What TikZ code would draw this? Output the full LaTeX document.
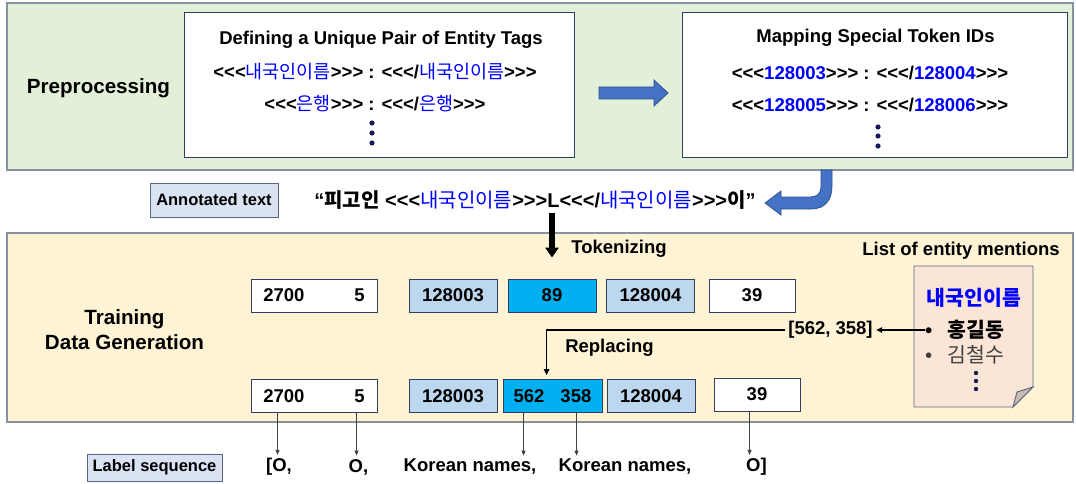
\documentclass[tikz,border=0pt]{standalone}
\usepackage{fontspec}
\newfontfamily\arl{Liberation Sans}
\newfontfamily\kr{Noto Sans CJK KR}
\usetikzlibrary{positioning,arrows.meta}

\definecolor{prepgreen}{RGB}{226,240,217}
\definecolor{gentan}{RGB}{255,243,214}
\definecolor{panelline}{RGB}{135,145,160}
\definecolor{boxline}{RGB}{50,62,95}
\definecolor{tokblue}{RGB}{189,215,238}
\definecolor{tokcyan}{RGB}{0,176,240}
\definecolor{tagblue}{RGB}{0,0,255}
\definecolor{capblue}{RGB}{218,227,243}
\definecolor{arrblue}{RGB}{68,114,196}
\definecolor{arrline}{RGB}{47,82,143}
\definecolor{docpeach}{RGB}{251,229,214}
\definecolor{docfold}{RGB}{200,186,176}
\definecolor{dotnavy}{RGB}{25,25,90}
\definecolor{softblack}{RGB}{64,64,64}

\newcommand\fsmain{\arl\fontsize{18.5pt}{22pt}\selectfont\bfseries}
\newcommand\fshead{\arl\fontsize{20.6pt}{25pt}\selectfont\bfseries}
\newcommand\fsann{\arl\fontsize{20pt}{24pt}\selectfont\bfseries}
\newcommand\fsdoc{\arl\fontsize{20.5pt}{24pt}\selectfont\bfseries}
\newcommand\fscap{\arl\fontsize{16.5pt}{20pt}\selectfont\bfseries}
\newcommand\tagko[1]{\textcolor{tagblue}{\kr\mdseries #1}}
\newcommand\tagid[1]{\textcolor{tagblue}{#1}}

\tikzset{
  every node/.style={font=\fsmain},
  panel/.style={draw=panelline, line width=1.2pt},
  tagbox/.style={draw=boxline, fill=white, line width=0.9pt},
  capbox/.style={draw=boxline!80, fill=capblue, line width=0.9pt, font=\fscap},
  tok/.style={draw=boxline, line width=0.9pt, minimum width=88pt, minimum height=33pt, inner sep=0pt},
  tokwhite/.style={tok, fill=white},
  toklight/.style={tok, fill=tokblue},
  tokcyan/.style={tok, fill=tokcyan},
  blockarrow/.style={draw=arrline, fill=arrblue, line width=0.8pt},
  tokarrow/.style={line width=5.5pt, -{Triangle[length=10pt,width=13pt]}},
  ptr/.style={line width=1.5pt, -{Triangle[length=6pt,width=5.5pt]}},
  lblarrow/.style={draw=softblack, line width=0.8pt, -{Triangle[length=5pt,width=4pt]}},
  docline/.style={draw=boxline!80, line width=0.9pt}
}

\begin{document}
\begin{tikzpicture}[x=1pt,y=-1pt]
\useasboundingbox (0,0) rectangle (1076,484);

% Preprocessing panel
\draw[panel, fill=prepgreen] (7,3) rectangle (1073,170);
\node[font=\fshead] (prep) at (98.5,88) {Preprocessing};

% Unique pair of entity tags
\node[tagbox, minimum width=390pt, minimum height=145pt] (pairs) at (379,84.5) {};
\node (pairsT) at (381,40) {Defining a Unique Pair of Entity Tags};
\node (pairsA) at (375,72) {<<<\tagko{내국인이름}>>> : <<</\tagko{내국인이름}>>>};
\node (pairsB) at (375,104) {<<<\tagko{은행}>>> : <<</\tagko{은행}>>>};
\fill[dotnavy] (372,123) circle (2.6pt) (372,133) circle (2.6pt) (372,143) circle (2.6pt);

% Block arrow between the two boxes
\draw[blockarrow] (599,87) -- (654,87) -- (654,80) -- (668,93) -- (654,106) -- (654,99) -- (599,99) -- cycle;

% Special token ids
\node[tagbox, minimum width=385pt, minimum height=145pt] (ids) at (874.5,84.5) {};
\node (idsT) at (875.5,38) {Mapping Special Token IDs};
\node (idsA) at (870,73) {<<<\tagid{128003}>>> : <<</\tagid{128004}>>>};
\node (idsB) at (870,105) {<<<\tagid{128005}>>> : <<</\tagid{128006}>>>};
\fill[dotnavy] (878,127) circle (2.6pt) (878,136) circle (2.6pt) (878,146) circle (2.6pt);

% Annotated text
\node[capbox, minimum width=128pt, minimum height=34pt] (annLbl) at (214,200) {Annotated text};
\node[font=\fsann] (ann) at (535,200) {“{\kr 피고인} <<<\tagko{내국인이름}>>>L<<</\tagko{내국인이름}>>>{\kr 이}”};
\draw[blockarrow] (821,170) -- (821,186) .. controls (821,194) and (817,197) .. (810,197) -- (781,197)
  -- (781,191) -- (765,203) -- (781,215) -- (781,209) -- (811,209) .. controls (825,209) and (832,200) .. (832,186)
  -- (832,170) -- cycle;

% Training data generation panel
\draw[panel, fill=gentan] (7,233) rectangle (1073,422);
\node[font=\fshead, align=center] (gen) at (124.5,329.5) {Training\\Data Generation};

% Tokens before replacing
\node[tokwhite, minimum width=126pt] (t1) at (314,295.5) {2700\hspace{50pt}5};
\node[toklight] (t2) at (453,295.5) {128003};
\node[tokcyan] (t3) at (552,295.5) {89};
\node[toklight] (t4) at (650.5,295.5) {128004};
\node[tokwhite, minimum width=86pt] (t5) at (752,295.5) {39};

\draw[tokarrow] (ann.south -| t3.north) -- ([yshift=21pt]t3.north);
\node (tokLbl) at (619,249) {Tokenizing};
\node (listLbl) at (961,251) {List of entity mentions};

% Tokens after replacing
\node[tokwhite, minimum width=126pt] (b1) at (314,396) {2700\hspace{50pt}5};
\node[toklight] (b2) at (453,396) {128003};
\node[tokcyan, minimum width=99pt] (b3) at (552.5,396) {562\hspace{16pt}358};
\node[toklight] (b4) at (651,396) {128004};
\node[tokwhite, minimum width=86pt] (b5) at (757,394.5) {39};

% List of entity mentions (document)
\draw[docline, fill=docpeach] (914,266) -- (1033,266) -- (1033,387) -- (1013,407) -- (914,407) -- cycle;
\draw[docline, fill=docfold] (1033,387) -- (1017,392) -- (1013,407) -- cycle;
\node[font=\fsdoc, text=tagblue] (docHead) at (974,298) {\kr 내국인이름};
\node[font=\fsdoc, anchor=west, inner sep=0pt] (m1) at (925,330) {•\hspace{15pt}{\kr 홍길동}};
\node[font=\fsdoc, anchor=west, inner sep=0pt, text=softblack] (m2) at (925,355) {\mdseries •\hspace{15pt}{\kr 김철수}};
\fill[dotnavy] (976,373) circle (2.2pt) (976,381) circle (2.2pt) (976,389) circle (2.2pt);

% Replacing
\node (sel) at (830.5,330) {[562, 358]};
\draw[ptr] (m1.west) -- (m1.west -| sel.east);
\coordinate (repIn) at ([xshift=44pt,yshift=4pt]b3.north west);
\draw[ptr] (sel.west) -| (repIn);
\node (repLbl) at (609.5,348) {Replacing};

% Label sequence
\node[capbox, minimum width=135pt, minimum height=27pt] (seqLbl) at (154.5,467.5) {Label sequence};
\node (l1) at (279,467) {[O,};
\node (l2) at (358.5,467) {O,};
\node (l3) at (470,467) {Korean names,};
\node (l4) at (625,467) {Korean names,};
\node (l5) at (756.5,467) {O]};

\coordinate (a1) at ([xshift=27pt]b1.south west);
\coordinate (a2) at ([xshift=106pt]b1.south west);
\coordinate (a3) at ([xshift=21pt]b3.south west);
\coordinate (a4) at ([xshift=74pt]b3.south west);
\coordinate (a5) at ([xshift=36pt]b5.south west);
\draw[lblarrow] (a1) -- (a1 |- l1.north);
\draw[lblarrow] (a2) -- (a2 |- l2.north);
\draw[lblarrow] (a3) -- (a3 |- l3.north);
\draw[lblarrow] (a4) -- (a4 |- l4.north);
\draw[lblarrow] (a5) -- (a5 |- l5.north);

\end{tikzpicture}
\end{document}
